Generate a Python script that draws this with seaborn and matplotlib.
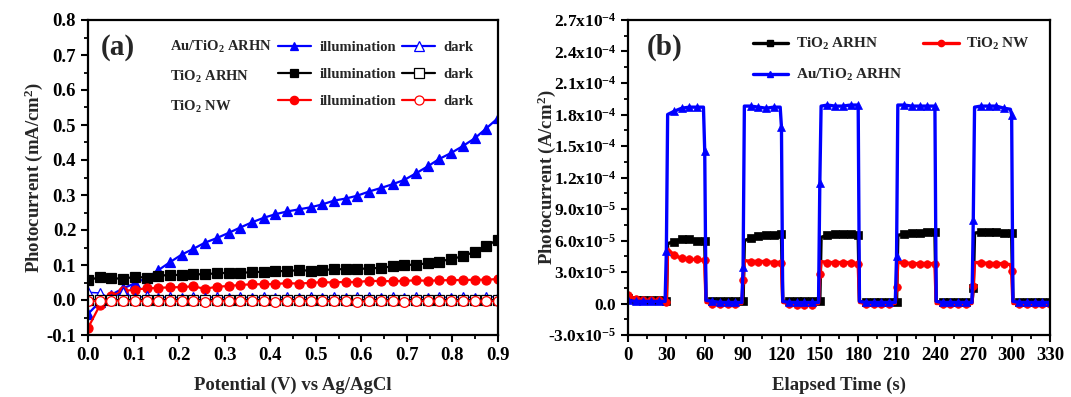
import numpy as np
import matplotlib
matplotlib.use("Agg")
import matplotlib.pyplot as plt
from matplotlib.ticker import MultipleLocator, FuncFormatter, FormatStrFormatter
from matplotlib.lines import Line2D
import pandas as pd
import seaborn as sns

# ---------------- data: panel (a) ----------------
potential = [0.0, 0.026, 0.051, 0.077, 0.103, 0.129, 0.154, 0.18, 0.206, 0.231,
             0.257, 0.283, 0.309, 0.334, 0.36, 0.386, 0.411, 0.437, 0.463, 0.489,
             0.514, 0.54, 0.566, 0.591, 0.617, 0.643, 0.669, 0.694, 0.72, 0.746,
             0.771, 0.797, 0.823, 0.849, 0.874, 0.9]
au_ill = [-0.04, -0.005, 0.015, 0.033, 0.048, 0.063, 0.085, 0.108, 0.13, 0.146,
          0.164, 0.177, 0.192, 0.207, 0.222, 0.235, 0.245, 0.253, 0.259, 0.265,
          0.273, 0.284, 0.29, 0.298, 0.31, 0.32, 0.331, 0.343, 0.362, 0.382,
          0.403, 0.42, 0.44, 0.462, 0.49, 0.52]
arhn_ill = [0.057, 0.065, 0.062, 0.061, 0.066, 0.064, 0.07, 0.071, 0.072, 0.073,
            0.074, 0.076, 0.078, 0.078, 0.079, 0.081, 0.082, 0.083, 0.085, 0.084,
            0.085, 0.088, 0.088, 0.089, 0.09, 0.092, 0.096, 0.1, 0.101, 0.105,
            0.11, 0.117, 0.125, 0.138, 0.155, 0.172]
nw_ill = [-0.08, -0.015, 0.012, 0.025, 0.03, 0.033, 0.035, 0.036, 0.037, 0.039,
          0.032, 0.038, 0.04, 0.043, 0.045, 0.045, 0.046, 0.048, 0.047, 0.049,
          0.051, 0.05, 0.052, 0.051, 0.055, 0.054, 0.054, 0.055, 0.056, 0.055,
          0.056, 0.057, 0.057, 0.058, 0.058, 0.06]
au_dark = [0.022, 0.02, 0.004, 0.023, 0.005, 0.012, 0.007, 0.009, 0.006, 0.008,
           0.007, 0.009, 0.006, 0.008, 0.007, 0.008, 0.006, 0.009, 0.007, 0.008,
           0.006, 0.009, 0.007, 0.008, 0.009, 0.007, 0.008, 0.006, 0.009, 0.007,
           0.008, 0.007, 0.009, 0.006, 0.008, 0.01]
arhn_dark = [0.001, 0.001, 0.0, 0.001, 0.001, 0.0, 0.001, 0.001, 0.0, 0.001,
             0.001, 0.0, 0.001, 0.001, 0.0, 0.001, 0.001, 0.0, 0.001, 0.001,
             0.0, 0.001, 0.001, 0.0, 0.001, 0.001, 0.0, 0.001, 0.001, 0.0,
             0.001, 0.001, 0.0, 0.001, 0.001, 0.0]
nw_dark = [-0.002, -0.004, -0.003, -0.002, -0.003, -0.004, -0.002, -0.003, -0.004, -0.002,
           -0.005, -0.003, -0.002, -0.004, -0.003, -0.002, -0.005, -0.003, -0.004, -0.002,
           -0.003, -0.004, -0.002, -0.006, -0.003, -0.004, -0.002, -0.005, -0.003, -0.004,
           -0.002, -0.003, -0.004, -0.002, -0.003, -0.004]
samples_a = ["Au/TiO$_2$ ARHN", "TiO$_2$ ARHN", "TiO$_2$ NW"]

# ---------------- data: panel (b) (current in units of 1e-5 A/cm2) ----------------
UNIT_B = 1e-5
time_s = [0, 6, 12, 18, 24, 29,
          30, 31, 36, 42, 48, 54, 59,
          60, 61, 66, 72, 78, 84, 89,
          90, 91, 96, 102, 108, 114, 119,
          120, 121, 126, 132, 138, 144, 149,
          150, 151, 156, 162, 168, 174, 179,
          180, 181, 186, 192, 198, 204, 209,
          210, 211, 216, 222, 228, 234, 239,
          240, 241, 246, 252, 258, 264, 269,
          270, 271, 276, 282, 288, 294, 299,
          300, 301, 306, 312, 318, 324, 330]
au_t = [0.3, 0.2, 0.2, 0.2, 0.2, 0.2,
        5.0, 18.0, 18.3, 18.6, 18.7, 18.7, 18.7,
        14.5, 0.3, 0.2, 0.1, 0.1, 0.1, 0.1,
        3.5, 18.8, 18.8, 18.7, 18.6, 18.7, 18.7,
        16.8, 0.2, 0.1, 0.1, 0.1, 0.1, 0.1,
        11.5, 18.8, 18.9, 18.8, 18.8, 18.9, 18.9,
        18.9, 0.2, 0.1, 0.1, 0.1, 0.1, 0.1,
        4.5, 18.9, 18.9, 18.8, 18.8, 18.8, 18.8,
        18.8, 0.2, 0.1, 0.1, 0.1, 0.1, 0.1,
        8.0, 18.7, 18.8, 18.8, 18.8, 18.6, 18.5,
        18.0, 0.2, 0.1, 0.1, 0.1, 0.1, 0.1]
arhn_t = [0.5, 0.3, 0.3, 0.3, 0.3, 0.3,
          0.2, 5.7, 5.9, 6.1, 6.1, 6.0, 6.0,
          6.0, 0.3, 0.2, 0.2, 0.2, 0.2, 0.2,
          0.2, 6.0, 6.2, 6.4, 6.5, 6.5, 6.5,
          6.6, 0.2, 0.2, 0.2, 0.2, 0.2, 0.2,
          0.2, 6.3, 6.5, 6.6, 6.6, 6.6, 6.5,
          6.5, 0.2, 0.1, 0.1, 0.1, 0.1, 0.1,
          0.1, 6.5, 6.6, 6.7, 6.7, 6.8, 6.8,
          6.8, 0.2, 0.1, 0.1, 0.1, 0.1, 0.1,
          1.5, 6.7, 6.8, 6.8, 6.8, 6.7, 6.7,
          6.7, 0.2, 0.1, 0.1, 0.1, 0.1, 0.1]
nw_t = [0.8, 0.4, 0.3, 0.3, 0.3, 0.3,
        0.1, 5.2, 4.6, 4.3, 4.2, 4.2, 4.1,
        4.1, 0.1, 0.0, 0.0, 0.0, 0.0, 0.0,
        2.2, 4.1, 4.0, 4.0, 4.0, 3.9, 3.9,
        3.9, 0.1, 0.0, -0.1, -0.1, -0.1, 0.0,
        2.8, 4.0, 3.9, 3.9, 3.9, 3.9, 3.8,
        3.8, 0.1, 0.0, 0.0, 0.0, 0.0, 0.0,
        1.6, 3.9, 3.9, 3.8, 3.8, 3.8, 3.8,
        3.8, 0.0, 0.0, 0.0, 0.0, 0.0, 0.0,
        1.7, 3.9, 3.9, 3.8, 3.8, 3.8, 3.7,
        3.1, 0.0, 0.0, 0.0, 0.0, 0.0, 0.0]
samples_b = ["TiO$_2$ ARHN", "Au/TiO$_2$ ARHN", "TiO$_2$ NW"]

# ---------------- style ----------------
sns.set_theme(style="ticks")
plt.rcParams.update({
    "font.family": ["Liberation Serif", "DejaVu Serif"],
    "font.weight": "bold",
    "axes.labelweight": "bold",
    "mathtext.default": "regular",
    "axes.unicode_minus": False,
    "axes.linewidth": 1.6,
    "axes.edgecolor": "black",
    "xtick.color": "black",
    "ytick.color": "black",
    "xtick.direction": "out",
    "ytick.direction": "out",
    "xtick.major.size": 5,
    "ytick.major.size": 5,
    "xtick.minor.size": 3,
    "ytick.minor.size": 3,
    "xtick.major.width": 1.5,
    "ytick.major.width": 1.5,
    "xtick.minor.width": 1.3,
    "ytick.minor.width": 1.3,
    "xtick.labelsize": 13.5,
    "ytick.labelsize": 13.5,
    "axes.labelsize": 13.5,
})

BLUE, BLACK, RED = "#0000ff", "#000000", "#ff0000"

fig = plt.figure(figsize=(10.71, 3.97), dpi=100)
axa = fig.add_axes([88 / 1071, 1 - 335 / 397, (498 - 88) / 1071, 315 / 397])
axb = fig.add_axes([628 / 1071, 1 - 335 / 397, (1050 - 628) / 1071, 315 / 397])

# ---------------- panel (a) ----------------
series_a = [
    (au_ill, BLUE, "^", True), (arhn_ill, BLACK, "s", True), (nw_ill, RED, "o", True),
    (au_dark, BLUE, "^", False), (arhn_dark, BLACK, "s", False), (nw_dark, RED, "o", False),
]
proxies_a = []
for vals, col, mk, filled in series_a:
    lw = 1.6 if filled else 1.1
    ms = 6.5 if filled else 7
    sns.lineplot(x=potential, y=vals, ax=axa, estimator=None, sort=False,
                 color=col, lw=lw, marker=mk, markersize=ms,
                 markerfacecolor=col if filled else "white",
                 markeredgecolor=col, markeredgewidth=0.9)
    proxies_a.append(Line2D([], [], color=col, lw=1.6, marker=mk,
                            markersize=6 if filled else 6.5,
                            markerfacecolor=col if filled else "white",
                            markeredgecolor=col, markeredgewidth=0.9))

axa.set_xlim(0, 0.9)
axa.set_ylim(-0.1, 0.8)
axa.xaxis.set_major_locator(MultipleLocator(0.1))
axa.xaxis.set_minor_locator(MultipleLocator(0.05))
axa.yaxis.set_major_locator(MultipleLocator(0.1))
axa.yaxis.set_minor_locator(MultipleLocator(0.05))
axa.xaxis.set_major_formatter(FormatStrFormatter("%.1f"))
axa.yaxis.set_major_formatter(FormatStrFormatter("%.1f"))
axa.set_xlabel("Potential (V) vs Ag/AgCl", labelpad=9)
axa.set_ylabel("Photocurrent (mA/cm$^2$)")
axa.yaxis.set_label_coords(-0.105, 0.5)
axa.text(0.03, 0.912, "(a)", transform=axa.transAxes, fontsize=21,
         fontweight="bold", ha="left", va="center")

blank = Line2D([], [], linestyle="none", marker=None)
handles_a = [blank, blank, blank] + proxies_a[:3] + proxies_a[3:]
labels_a = samples_a + ["illumination"] * 3 + ["dark"] * 3
axa.legend(handles_a, labels_a, ncol=3, frameon=False, fontsize=10.5,
           loc="upper left", bbox_to_anchor=(0.1, 0.94), borderaxespad=0,
           borderpad=0, handlelength=2.2, handletextpad=0.6, columnspacing=0.45,
           labelspacing=0.95)

# ---------------- panel (b) ----------------
marks = [t % 6 == 0 for t in time_s]
series_b = [(arhn_t, BLACK, "s"), (nw_t, RED, "o"), (au_t, BLUE, "^")]
proxies_b = {}
for vals, col, mk in series_b:
    y = np.array(vals) * UNIT_B
    sns.lineplot(x=time_s, y=y, ax=axb, estimator=None, sort=False,
                 color=col, lw=2.4, marker=mk, markersize=5.5,
                 markerfacecolor=col, markeredgecolor=col, markeredgewidth=0.5,
                 markevery=marks)
    proxies_b[col] = Line2D([], [], color=col, lw=2.4, marker=mk, markersize=4.5,
                            markerfacecolor=col, markeredgecolor=col)

axb.set_xlim(0, 330)
axb.set_ylim(-3e-5, 2.7e-4)
axb.xaxis.set_major_locator(MultipleLocator(30))
axb.xaxis.set_minor_locator(MultipleLocator(15))
axb.yaxis.set_major_locator(MultipleLocator(3e-5))
axb.yaxis.set_minor_locator(MultipleLocator(1.5e-5))


def sci_fmt(v, pos):
    if abs(v) < 1e-12:
        return "0.0"
    exp = int(np.floor(np.log10(abs(v))))
    mant = v / 10 ** exp
    return f"{mant:.1f}x10$^{{{exp}}}$"


axb.yaxis.set_major_formatter(FuncFormatter(sci_fmt))
axb.tick_params(axis="y", labelsize=12.5)
axb.set_xlabel("Elapsed Time (s)", labelpad=9)
axb.set_ylabel("Photocurrent (A/cm$^2$)")
axb.yaxis.set_label_coords(-0.166, 0.5)
axb.text(0.045, 0.912, "(b)", transform=axb.transAxes, fontsize=21,
         fontweight="bold", ha="left", va="center")
axb.legend([proxies_b[BLACK], proxies_b[BLUE], proxies_b[RED]], samples_b,
           ncol=2, frameon=False, fontsize=11, loc="upper left",
           bbox_to_anchor=(0.296, 0.948), borderaxespad=0, borderpad=0,
           handlelength=2.3, handletextpad=0.5, columnspacing=1.4,
           labelspacing=0.95)

for ax in (axa, axb):
    for s in ax.spines.values():
        s.set_visible(True)
        s.set_linewidth(1.6)
        s.set_color("black")
    ax.tick_params(top=False, right=False, which="both")

fig.savefig("out.png", dpi=100)
